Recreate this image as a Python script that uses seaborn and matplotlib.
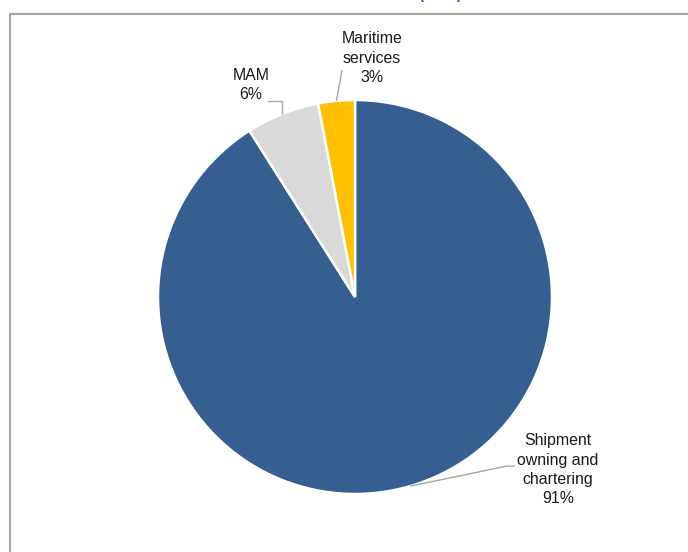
import numpy as np
import matplotlib
matplotlib.use("Agg")
import matplotlib.pyplot as plt
from matplotlib.lines import Line2D
import seaborn as sns

# Segment shares (%)
segments = ["Shipment owning and chartering", "MAM", "Maritime services"]
labels = ["Shipment\nowning and\nchartering", "MAM", "Maritime\nservices"]
shares = [91, 6, 3]
colors = ["#355F91", "#D9D9D9", "#FFC000"]

sns.set_theme(style="white")
plt.rcParams["font.family"] = ["Liberation Sans", "DejaVu Sans"]

W, H = 688, 552
fig = plt.figure(figsize=(W / 100, H / 100), dpi=100)
ax = fig.add_axes([0, 0, 1, 1])

wedges, _ = ax.pie(
    shares,
    colors=colors,
    startangle=90,
    counterclock=False,
    radius=1.0,
    wedgeprops=dict(edgecolor="white", linewidth=1.8),
)

# pixel-based view: centre at (355, 297) px, radius 197 px
cx, cy, r = 355, 297, 197
ax.set_xlim(-cx / r, (W - cx) / r)
ax.set_ylim(-(H - cy) / r, cy / r)
ax.set_aspect("auto")
ax.axis("off")

def mid_point(w, rad=1.0):
    a = np.deg2rad((w.theta1 + w.theta2) / 2)
    return rad * np.cos(a), rad * np.sin(a)

fs = 11.4
line_kw = dict(color="#A6A6A6", lw=1.0, solid_capstyle="butt")
txt_kw = dict(fontsize=fs, color="#1A1A1A", ha="center", va="center", linespacing=1.36)

# Shipment owning and chartering
x0, y0 = mid_point(wedges[0], 1.0)
ax.plot([x0, 0.772, 0.812], [y0, -0.858, -0.858], **line_kw)
ax.text(1.030, -0.878, f"{labels[0]}\n{shares[0]}%", **txt_kw)

# MAM
x1, y1 = mid_point(wedges[1], 1.0)
ax.plot([x1, x1, -0.447], [y1, 0.995, 0.995], **line_kw)
ax.text(-0.528, 1.076, f"{labels[1]}\n{shares[1]}%", **txt_kw)

# Maritime services
x2, y2 = mid_point(wedges[2], 1.0)
ax.plot([x2, -0.066], [y2, 1.152], **line_kw)
ax.text(0.086, 1.213, f"{labels[2]}\n{shares[2]}%", **txt_kw)

# chart frame
fig.add_artist(Line2D([9.5 / W, 1.0], [1 - 13.5 / H, 1 - 13.5 / H],
                      transform=fig.transFigure, color="#A6A6A6", lw=1.5))
fig.add_artist(Line2D([9.5 / W, 9.5 / W], [0.0, 1 - 13.5 / H],
                      transform=fig.transFigure, color="#A6A6A6", lw=1.5))

# title line above the frame
fig.text(440 / W, 1 + 1.5 / H, "(USD)", color="#1F6FD0", fontsize=fs,
         fontweight="bold", ha="center", va="baseline")

fig.savefig("out.png", dpi=100)
